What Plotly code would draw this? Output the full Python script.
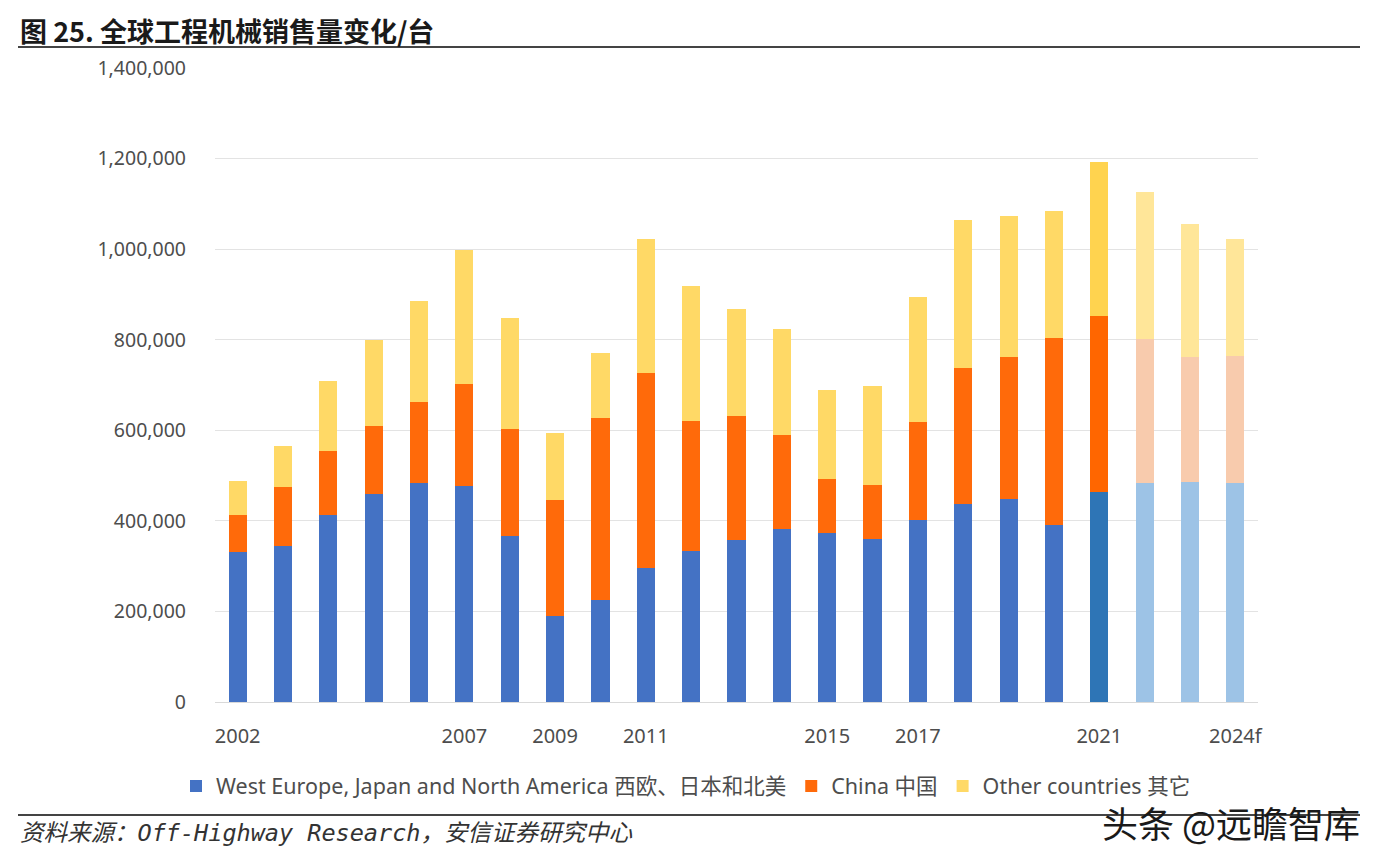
import plotly.graph_objects as go

years = ["2002", "2003", "2004", "2005", "2006", "2007", "2008", "2009", "2010", "2011",
         "2012", "2013", "2014", "2015", "2016", "2017", "2018", "2019", "2020", "2021",
         "2022", "2023", "2024f"]
shown_ticks = ["2002", "2007", "2009", "2011", "2015", "2017", "2021", "2024f"]

west = [331000, 345000, 413000, 459000, 483000, 477000, 367000, 190000, 225000, 296000,
        333000, 358000, 382000, 373000, 360000, 402000, 437000, 448000, 391000, 464000,
        484000, 486000, 484000]
china = [82000, 130000, 141000, 150000, 179000, 225000, 236000, 256000, 402000, 430000,
         287000, 274000, 208000, 119000, 119000, 216000, 300000, 314000, 413000, 388000,
         317000, 276000, 280000]
other = [75000, 90000, 155000, 190000, 223000, 296000, 245000, 148000, 144000, 296000,
         298000, 236000, 234000, 197000, 219000, 276000, 327000, 311000, 280000, 340000,
         325000, 293000, 258000]

names = ["West Europe, Japan and North America 西欧、日本和北美", "China 中国", "Other countries 其它"]

# colour per bar: historical, highlighted 2021, forecast
def palette(base, hi, fc):
    cols = []
    for y in years:
        if y == "2021":
            cols.append(hi)
        elif y in ("2022", "2023", "2024f"):
            cols.append(fc)
        else:
            cols.append(base)
    return cols

blue_cols = palette("#4472C4", "#2E75B6", "#9DC3E6")
orange_cols = palette("#FF6A0A", "#FF6600", "#F8CBAD")
yellow_cols = palette("#FFD966", "#FFD34F", "#FFE699")

fig = go.Figure()
for name, vals, cols in [(names[0], west, blue_cols), (names[1], china, orange_cols), (names[2], other, yellow_cols)]:
    fig.add_trace(go.Bar(x=years, y=vals, name=name, marker=dict(color=cols, line=dict(width=0))))

OFF = 8  # page body margin
FW, FH = 1372, 846
L, R, T, B = 215 - OFF, 1258 - OFF, 68 - OFF, 702 - OFF
W, H = R - L, B - T
def px(x):
    return (x - OFF - L) / W
def py(y):
    return (B - (y - OFF)) / H

fig.update_layout(
    width=FW, height=FH,
    barmode="stack", bargap=0.6,
    plot_bgcolor="white", paper_bgcolor="white",
    margin=dict(l=L, r=FW - R, t=T, b=FH - B, autoexpand=False),
    font=dict(family="Noto Sans, Noto Sans CJK SC", color="#4D4D4D"),
    xaxis=dict(
        type="category", tickmode="array", tickvals=shown_ticks, ticktext=shown_ticks,
        tickfont=dict(size=20, color="#4D4D4D"), showgrid=False, ticks="",
        showline=True, linecolor="#D9D9D9", linewidth=1, ticklabelstandoff=16,
    ),
    yaxis=dict(
        range=[0, 1400000], tickvals=[0, 200000, 400000, 600000, 800000, 1000000, 1200000, 1400000],
        tickformat=",d", tickfont=dict(size=19.5, color="#4D4D4D"),
        showgrid=True, gridcolor="#E3E3E3", gridwidth=1, zeroline=False, ticklabelstandoff=28,
    ),
    legend=dict(
        orientation="h", x=px(686), xanchor="center", y=py(786), yanchor="middle",
        font=dict(size=21.5, color="#4D4D4D"), traceorder="normal",
    ),
    showlegend=True,
)

fig.add_annotation(
    text="<b>图 25. 全球工程机械销售量变化/台</b>", xref="paper", yref="paper",
    x=px(18), y=py(9), xanchor="left", yanchor="top", showarrow=False,
    font=dict(family="Noto Sans CJK SC", size=27, color="#1a1a1a"),
)
fig.add_annotation(
    text="<i>资料来源：Off-Highway Research，安信证券研究中心</i>", xref="paper", yref="paper",
    x=px(18), y=py(833), xanchor="left", yanchor="middle", showarrow=False,
    font=dict(family="DejaVu Sans Mono, Noto Sans CJK SC", size=23.5, color="#333333"),
)
fig.add_shape(type="line", xref="paper", yref="paper", x0=px(18), x1=px(1360), y0=py(47), y1=py(47),
              line=dict(color="#444444", width=2))
fig.add_shape(type="line", xref="paper", yref="paper", x0=px(18), x1=px(1360), y0=py(815), y1=py(815),
              line=dict(color="#444444", width=2))
fig.add_annotation(
    text="头条 @远瞻智库", xref="paper", yref="paper",
    x=px(1362), y=py(822), xanchor="right", yanchor="middle", showarrow=False,
    font=dict(family="Noto Sans CJK SC", size=36, color="#1a1a1a"),
)

fig.write_html("out.html")
